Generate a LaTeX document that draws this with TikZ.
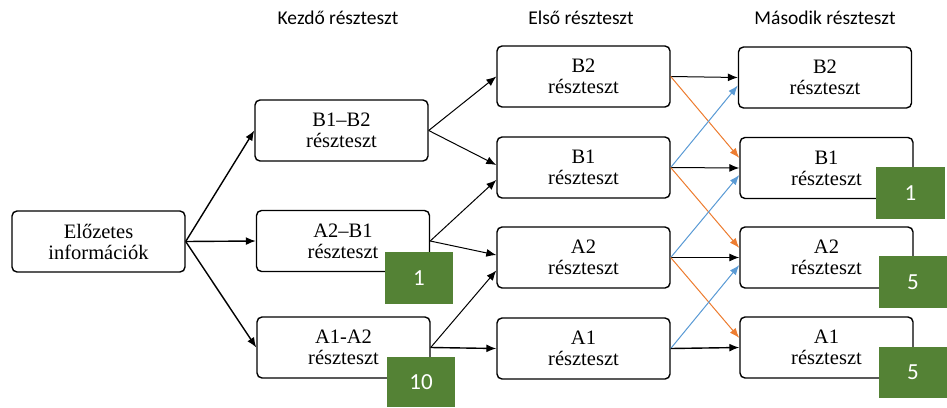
\documentclass[tikz,border=0pt]{standalone}
\usepackage{fontspec}
\setmainfont{Liberation Serif}
\newfontfamily\calibrifont{Carlito}
\usetikzlibrary{arrows.meta}
\definecolor{grn}{HTML}{548235}
\definecolor{org}{HTML}{ED7D31}
\definecolor{blu}{HTML}{5B9BD5}
\tikzset{
  box/.style={draw, rounded corners=5pt, line width=1.4pt, minimum width=173pt, minimum height=61pt, inner sep=0pt, align=center, font=\fontsize{20.5}{21}\selectfont},
  badge/.style={fill=grn, draw=none, inner sep=0pt, minimum width=68pt, minimum height=52pt, text=white, font=\calibrifont\fontsize{23}{24}\selectfont},
  head/.style={font=\calibrifont\fontsize{19.5}{22}\selectfont},
  arr/.style={-{Latex[length=10pt,width=8pt]}, line width=1.4pt},
  arrthin/.style={-{Latex[length=10pt,width=8pt]}, line width=1pt},
  arro/.style={-{Latex[length=10pt,width=7.5pt]}, line width=1pt, draw=org, fill=org},
  arrb/.style={-{Latex[length=10pt,width=7.5pt]}, line width=1pt, draw=blu, fill=blu},
}
\begin{document}
\begin{tikzpicture}[x=1pt,y=-1pt]
\useasboundingbox (0,0) rectangle (947,407);
% headers
\node[head] (h1) at (338,18) {Kezdő részteszt};
\node[head] (h2) at (581,18) {Első részteszt};
\node[head] (h3) at (825,18) {Második részteszt};
% boxes
\node[box] (pre) at (98.5,241.5) {Előzetes\\információk};
\node[box] (k1) at (341.5,130.5) {B1–B2\\részteszt};
\node[box] (k2) at (343,241) {A2–B1\\részteszt};
\node[box] (k3) at (343.5,347.5) {A1-A2\\részteszt};
\node[box] (e1) at (583.5,76.5) {B2\\részteszt};
\node[box] (e2) at (583.5,167.5) {B1\\részteszt};
\node[box] (e3) at (583.5,257.5) {A2\\részteszt};
\node[box] (e4) at (583.5,348.5) {A1\\részteszt};
\node[box] (m1) at (825,77.5) {B2\\részteszt};
\node[box] (m2) at (826.5,168) {B1\\részteszt};
\node[box] (m3) at (826.5,257.5) {A2\\részteszt};
\node[box] (m4) at (826.5,347.5) {A1\\részteszt};
% badges
\node[badge] (g1) at (419,278) {1};
\node[badge, minimum height=50pt] (g2) at (421,382) {10};
\node[badge, minimum width=69pt] (g3) at (910.5,193) {1};
\node[badge] (g4) at (913,282) {5};
\node[badge, minimum height=51pt] (g5) at (913,372.5) {5};
% first column arrows
\draw[arr] (pre.east) -- (k1.west);
\draw[arr] (pre.east) -- (k2.west);
\draw[arr] (pre.east) -- (k3.west);
% second column arrows
\draw[arrthin] (k1.east) -- (e1.west);
\draw[arrthin] (k1.east) -- ([yshift=2.5pt]e2.west);
\draw[arrthin] (k2.east) -- ([yshift=-12.5pt]e2.west);
\draw[arrthin] (k2.east) -- ([yshift=2.5pt]e3.west);
\draw[arrthin] (k3.east) -- ([yshift=-13pt]e3.west);
\draw[arr] (k3.east) -- (e4.west);
% third column arrows
\draw[arrthin] (e1.east) -- (m1.west);
\draw[arro] (e1.east) -- ([yshift=10pt]m2.west);
\draw[arrb] (e2.east) -- ([yshift=-8pt]m1.west);
\draw[arrthin] (e2.east) -- (m2.west);
\draw[arro] (e2.east) -- ([yshift=9.5pt]m3.west);
\draw[arrb] (e3.east) -- ([yshift=-7pt]m2.west);
\draw[arrthin] (e3.east) -- (m3.west);
\draw[arro] (e3.east) -- ([yshift=9.5pt]m4.west);
\draw[arrb] (e4.east) -- ([yshift=-7.5pt]m3.west);
\draw[arr] (e4.east) -- (m4.west);
\end{tikzpicture}
\end{document}
